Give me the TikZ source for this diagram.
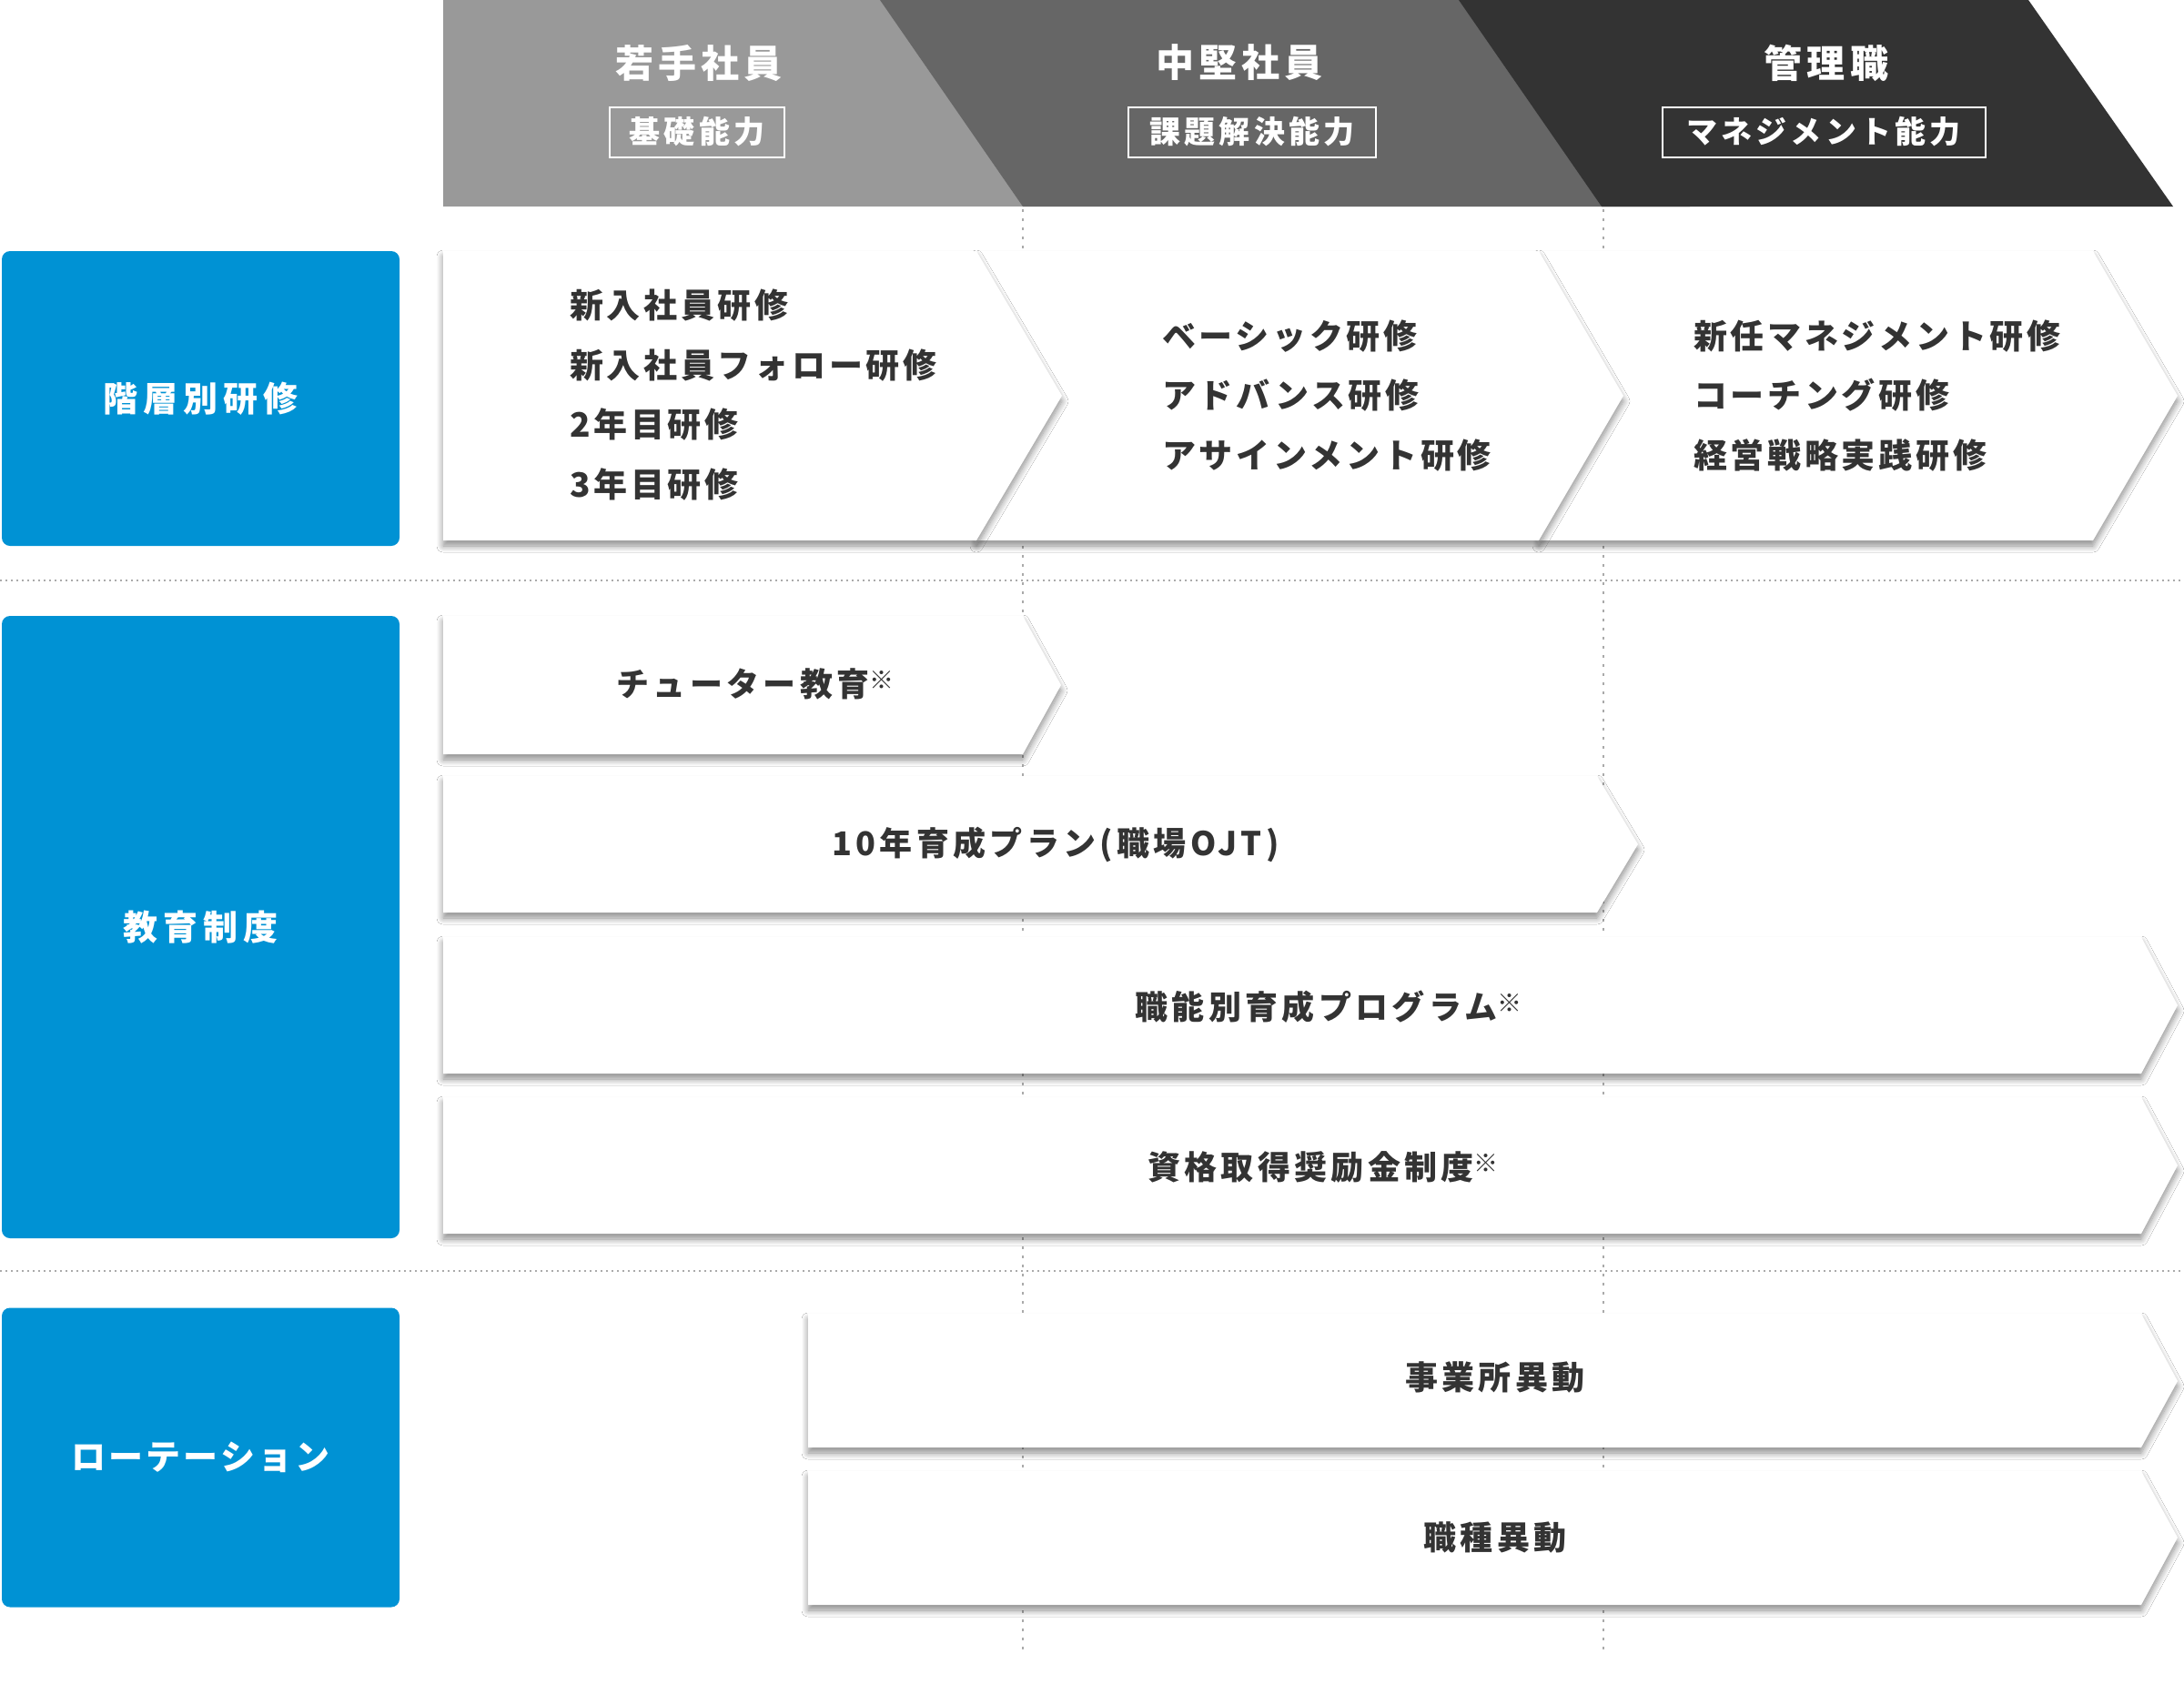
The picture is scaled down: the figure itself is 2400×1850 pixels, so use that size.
\documentclass[tikz,border=0pt]{standalone}
\usepackage{fontspec}
\setmainfont{Noto Sans CJK JP}
\usetikzlibrary{shadows.blur}
\definecolor{catblue}{HTML}{0092D4}
\definecolor{txt}{HTML}{333333}
\definecolor{gA}{HTML}{999999}
\definecolor{gB}{HTML}{666666}
\definecolor{gC}{HTML}{333333}
\definecolor{dotc}{HTML}{AAAAAA}
\newcommand{\kome}{\raisebox{8pt}{\mdseries\fontsize{27}{27}\selectfont ※}}
\newcommand{\jfs}[2]{\bfseries\fontsize{#1}{#2}\selectfont}
\tikzset{
  hdot/.style={draw=dotc, line width=1.6pt, dash pattern=on 1.6pt off 4.4pt},
  vdot/.style={draw=dotc, line width=1.6pt, dash pattern=on 3pt off 7pt},
  chev/.style={fill=white, blur shadow={shadow xshift=0pt, shadow yshift=-6pt, shadow blur radius=7pt, shadow opacity=45, shadow blur steps=10}},
  hdtitle/.style={text=white, inner sep=0pt, font=\jfs{42}{42}\addfontfeatures{LetterSpace=12}},
  hdbox/.style={draw=white, line width=2pt, text=white, inner sep=0pt, minimum height=55pt, font=\jfs{34}{34}\addfontfeatures{LetterSpace=12}},
  catbox/.style={fill=catblue, rounded corners=9pt, text=white, font=\jfs{38}{38}\addfontfeatures{LetterSpace=16}},
  items/.style={text=txt, inner sep=0pt, anchor=west, align=left, font=\jfs{37}{65.5}\addfontfeatures{LetterSpace=10}},
  item/.style={text=txt, inner sep=0pt, font=\jfs{36}{36}\addfontfeatures{LetterSpace=12}},
}
\begin{document}
\begin{tikzpicture}[x=1pt,y=-1pt]
\useasboundingbox (0,0) rectangle (2400,1850);
\fill[white] (0,0) rectangle (2400,1850);

% grid lines
\draw[hdot] (0,638) -- (2400,638);
\draw[hdot] (0,1397) -- (2400,1397);
\draw[vdot] (1124,230) -- (1124,1817);
\draw[vdot] (1762,230) -- (1762,1817);

% header band
\fill[gA] (487,0) rectangle (1200,227);
\fill[gB] (967,0) -- (1700,0) -- (1857,227) -- (1124,227) -- cycle;
\fill[gC] (1603,0) -- (2229,0) -- (2388,227) -- (1760,227) -- cycle;

\node[hdtitle] (t1) at (768,69) {若手社員};
\node[hdtitle] (t2) at (1362,69) {中堅社員};
\node[hdtitle] (t3) at (2007,69) {管理職};
\node[hdbox, minimum width=192pt] (b1) at (766,145) {基礎能力};
\node[hdbox, minimum width=272pt] (b2) at (1376,145) {課題解決能力};
\node[hdbox, minimum width=355pt] (b3) at (2004,145) {マネジメント能力};

% category boxes
\node[catbox, minimum width=437pt, minimum height=324pt] (c1) at (220.5,438) {階層別研修};
\node[catbox, minimum width=437pt, minimum height=684pt] (c2) at (220.5,1019) {教育制度};
\node[catbox, minimum width=437pt, minimum height=329pt, font=\jfs{38}{38}\addfontfeatures{LetterSpace=8}] (c3) at (220.5,1602) {ローテーション};

% row 1 chevrons
\path[chev] (1691,276) -- (2300,276) -- (2393,435) -- (2300,594) -- (1691,594) -- cycle;
\path[chev] (1073,276) -- (1691,276) -- (1784,435) -- (1691,594) -- (1073,594) -- cycle;
\path[chev] (487,276) -- (1073,276) -- (1167,435) -- (1073,594) -- (487,594) -- cycle;
\node[items] (r1a) at (626,434) {新入社員研修\\新入社員フォロー研修\\2年目研修\\3年目研修};
\node[items] (r1b) at (1277,435) {ベーシック研修\\アドバンス研修\\アサインメント研修};
\node[items] (r1c) at (1861,435) {新任マネジメント研修\\コーチング研修\\経営戦略実践研修};

% row 2 chevrons
\path[chev] (487,677) -- (1124,677) -- (1166,753) -- (1124,829) -- (487,829) -- cycle;
\path[chev] (487,853) -- (1755,853) -- (1800,928) -- (1755,1003) -- (487,1003) -- cycle;
\path[chev] (487,1030) -- (2353,1030) -- (2393,1105) -- (2353,1180) -- (487,1180) -- cycle;
\path[chev] (487,1206) -- (2353,1206) -- (2393,1281) -- (2353,1356) -- (487,1356) -- cycle;
\node[item] (r2a) at (830,752) {チューター教育\kome};
\node[item] (r2b) at (1160,928) {10年育成プラン(職場OJT)};
\node[item] (r2c) at (1460,1107) {職能別育成プログラム\kome};
\node[item] (r2d) at (1454,1283) {資格取得奨励金制度\kome};

% row 3 chevrons
\path[chev] (888,1444) -- (2353,1444) -- (2393,1518) -- (2353,1591) -- (888,1591) -- cycle;
\path[chev] (888,1617) -- (2353,1617) -- (2393,1690) -- (2353,1764) -- (888,1764) -- cycle;
\node[item] (r3a) at (1643,1514) {事業所異動};
\node[item] (r3b) at (1643,1690) {職種異動};
\end{tikzpicture}
\end{document}
